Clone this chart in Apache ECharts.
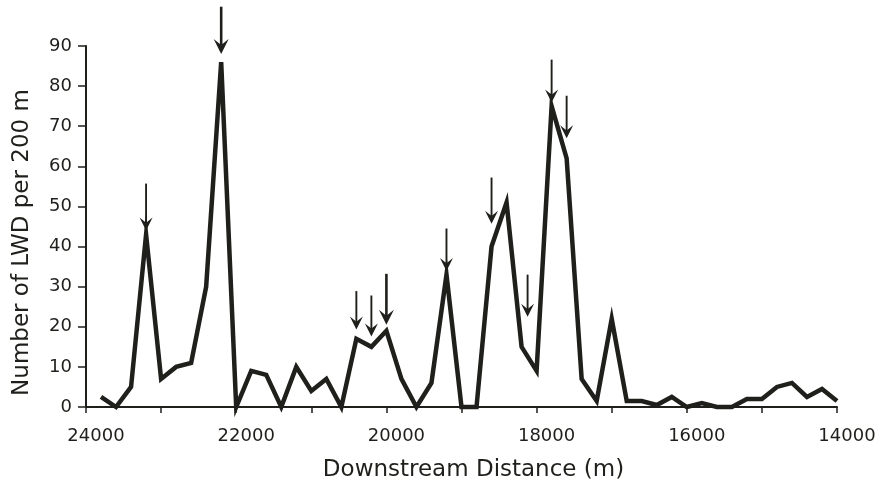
<!DOCTYPE html>
<html>
<head>
<meta charset="utf-8">
<script src="https://cdn.jsdelivr.net/npm/echarts@6/dist/echarts.min.js"></script>
<style>
html,body{margin:0;padding:0;background:#fff;}
#chart{width:886px;height:487px;}
</style>
</head>
<body>
<div id="chart"></div>
<script>
// Downstream distance (m) of each 200 m reach
const distances = [23800,23600,23400,23200,23000,22800,22600,22400,22200,22000,
  21800,21600,21400,21200,21000,20800,20600,20400,20200,20000,
  19800,19600,19400,19200,19000,18800,18600,18400,18200,18000,
  17800,17600,17400,17200,17000,16800,16600,16400,16200,16000,
  15800,15600,15400,15200,15000,14800,14600,14400,14200,14000];
// Number of LWD per 200 m
const lwdCounts = [2.5,0,5,43,7,10,11,30,86,0,
  9,8,0,10,4,7,0,17,15,19,
  7,0,6,33,0,0,40,51,15,9,
  75,62,7,1.5,22,1.5,1.5,0.5,2.5,0,
  1,0,0,2,2,5,6,2.5,4.5,1.5];
// Arrow annotations (data units): distance, tip value, tail value
const arrowX   = [23200,22200,20400,20200,20000,19200,18600,18120,17800,17600];
const arrowTip = [44,   88,   19.3, 17.6, 20.5, 33.9, 45.7, 22.5, 75.9, 67];
const arrowTop = [55.7, 99.8, 28.9, 27.8, 33.2, 44.5, 57.2, 33,   86.6, 77.6];
const xTickLabels = [24000,22000,20000,18000,16000,14000];
const yTicks = [0,10,20,30,40,50,60,70,80,90];

const ink = '#1f1f1b';
const boldArrows = new Set([1,4]);

const chart = echarts.init(document.getElementById('chart'));
chart.setOption({
  animation: false,
  backgroundColor: '#ffffff',
  grid: {left: 86, right: 49, top: 46, bottom: 78},
  xAxis: {
    type: 'value', inverse: true, min: 14000, max: 24000, interval: 1000,
    name: 'Downstream Distance (m)', nameLocation: 'middle', nameGap: 52,
    nameTextStyle: {fontFamily: 'DejaVu Sans', fontSize: 23, color: ink, padding: [0,0,0,24]},
    axisLine: {show: true, onZero: false, lineStyle: {color: ink, width: 2}},
    axisTick: {show: true, length: 6, lineStyle: {color: ink, width: 1.5}},
    axisLabel: {
      fontFamily: 'DejaVu Sans', fontSize: 18, color: ink, margin: 20,
      padding: [0,0,0,20],
      formatter: v => xTickLabels.includes(v) ? String(v) : ''
    },
    splitLine: {show: false}
  },
  yAxis: {
    type: 'value', min: 0, max: 90, interval: 10,
    name: 'Number of LWD per 200 m', nameLocation: 'middle', nameGap: 52,
    nameTextStyle: {fontFamily: 'DejaVu Sans', fontSize: 23, color: ink, padding: [0,32,0,0]},
    axisLine: {show: true, lineStyle: {color: ink, width: 2}},
    axisTick: {show: true, length: 8, lineStyle: {color: ink, width: 1.5}},
    axisLabel: {
      fontFamily: 'DejaVu Sans', fontSize: 18, color: ink, margin: 14,
      formatter: v => yTicks.includes(v) ? String(v) : ''
    },
    splitLine: {show: false}
  },
  series: [
    {
      type: 'line',
      data: distances.map((d, i) => [d, lwdCounts[i]]),
      showSymbol: false,
      clip: false,
      lineStyle: {color: ink, width: 4.5, join: 'miter', cap: 'butt'}
    },
    {
      type: 'custom',
      clip: false,
      data: arrowX.map((x, i) => [x, arrowTip[i], arrowTop[i]]),
      encode: {x: 0, y: [1, 2]},
      renderItem: function (params, api) {
        const idx = params.dataIndex;
        const bold = boldArrows.has(idx);
        const tip = api.coord([api.value(0), api.value(1)]);
        const tail = api.coord([api.value(0), api.value(2)]);
        const hw = bold ? 7.5 : 6.5;
        const hl = bold ? 15 : 13;
        const notch = hl * 0.4;
        return {
          type: 'group',
          children: [
            {
              type: 'line',
              shape: {x1: tail[0], y1: tail[1], x2: tip[0], y2: tip[1] - hl + notch + 1},
              style: {stroke: ink, lineWidth: bold ? 2.6 : 1.9}
            },
            {
              type: 'polygon',
              shape: {points: [
                [tip[0], tip[1]],
                [tip[0] - hw, tip[1] - hl],
                [tip[0], tip[1] - hl + notch],
                [tip[0] + hw, tip[1] - hl]
              ]},
              style: {fill: ink}
            }
          ]
        };
      }
    }
  ]
});
</script>
</body>
</html>
